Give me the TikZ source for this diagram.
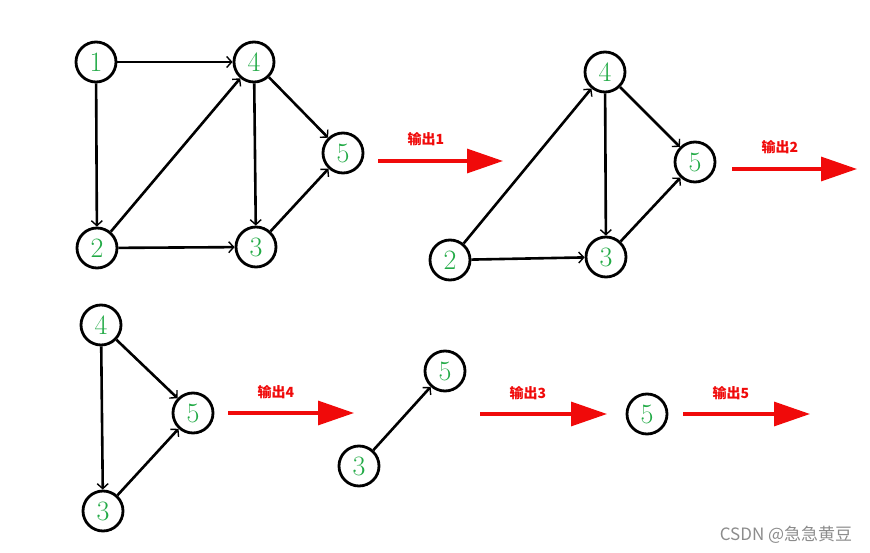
\documentclass[tikz,border=0pt]{standalone}
\usepackage{fontspec}
\newfontfamily\cjk{Noto Sans CJK SC}
\usetikzlibrary{arrows.meta}
\definecolor{numgreen}{RGB}{34,170,70}
\definecolor{outred}{RGB}{240,10,10}
\tikzset{
  vtx/.style={circle, draw=black, line width=2.8pt, minimum size=40pt, inner sep=0pt,
    text=numgreen, font=\fontsize{28}{28}\selectfont},
  edge/.style={draw=black, line width=2.6pt, -{Straight Barb[length=5pt,width=11pt,line width=1.4pt]}},
  outarrow/.style={draw=outred, line width=3.2pt, -{Triangle[length=36pt,width=24pt]}},
  outlabel/.style={text=outred, font=\cjk\bfseries\fontsize{14}{14}\selectfont, inner sep=0pt},
}
\begin{document}
\begin{tikzpicture}[x=1pt,y=-1pt]
\useasboundingbox (0,0) rectangle (870,553);
% graph 1
\node[vtx] (a1) at (96,62) {1};
\node[vtx] (a4) at (254,62) {4};
\node[vtx] (a5) at (343,153) {5};
\node[vtx] (a2) at (97,248) {2};
\node[vtx] (a3) at (256,247) {3};
\draw[edge] (a1) -- (a4);
\draw[edge] (a1) -- (a2);
\draw[edge] (a2) -- (a4);
\draw[edge] (a2) -- (a3);
\draw[edge] (a4) -- (a3);
\draw[edge] (a4) -- (a5);
\draw[edge] (a3) -- (a5);
% arrow 1
\coordinate (s1) at (378,161);
\coordinate (e1) at (503,161);
\draw[outarrow] (s1) -- (e1);
\node[outlabel] (l1) at (426,139) {输出1};
% graph 2
\node[vtx] (b4) at (605,72) {4};
\node[vtx] (b5) at (695,162) {5};
\node[vtx] (b2) at (450,260) {2};
\node[vtx] (b3) at (606,257) {3};
\draw[edge] (b2) -- (b4);
\draw[edge] (b2) -- (b3);
\draw[edge] (b4) -- (b3);
\draw[edge] (b4) -- (b5);
\draw[edge] (b3) -- (b5);
% arrow 2
\coordinate (s2) at (732,169);
\coordinate (e2) at (857,169);
\draw[outarrow] (s2) -- (e2);
\node[outlabel] (l2) at (780,147) {输出2};
% graph 3
\node[vtx] (c4) at (101,325) {4};
\node[vtx] (c5) at (193,413) {5};
\node[vtx] (c3) at (103,511) {3};
\draw[edge] (c4) -- (c3);
\draw[edge] (c4) -- (c5);
\draw[edge] (c3) -- (c5);
% arrow 4
\coordinate (s4) at (228,413);
\coordinate (e4) at (354,413);
\draw[outarrow] (s4) -- (e4);
\node[outlabel] (l4) at (276,392) {输出4};
% graph 4
\node[vtx] (d5) at (445,371) {5};
\node[vtx] (d3) at (359,466) {3};
\draw[edge] (d3) -- (d5);
% arrow 3
\coordinate (s3) at (480,414);
\coordinate (e3) at (607,414);
\draw[outarrow] (s3) -- (e3);
\node[outlabel] (l3) at (528,393) {输出3};
% graph 5
\node[vtx] (f5) at (647,414) {5};
% arrow 5
\coordinate (s5) at (683,414);
\coordinate (e5) at (810,414);
\draw[outarrow] (s5) -- (e5);
\node[outlabel] (l5) at (731,393) {输出5};
% watermark
\node[text=black!45, font=\cjk\fontsize{17}{17}\selectfont, inner sep=0pt] (wm) at (786,535) {CSDN @急急黄豆};
\end{tikzpicture}
\end{document}
